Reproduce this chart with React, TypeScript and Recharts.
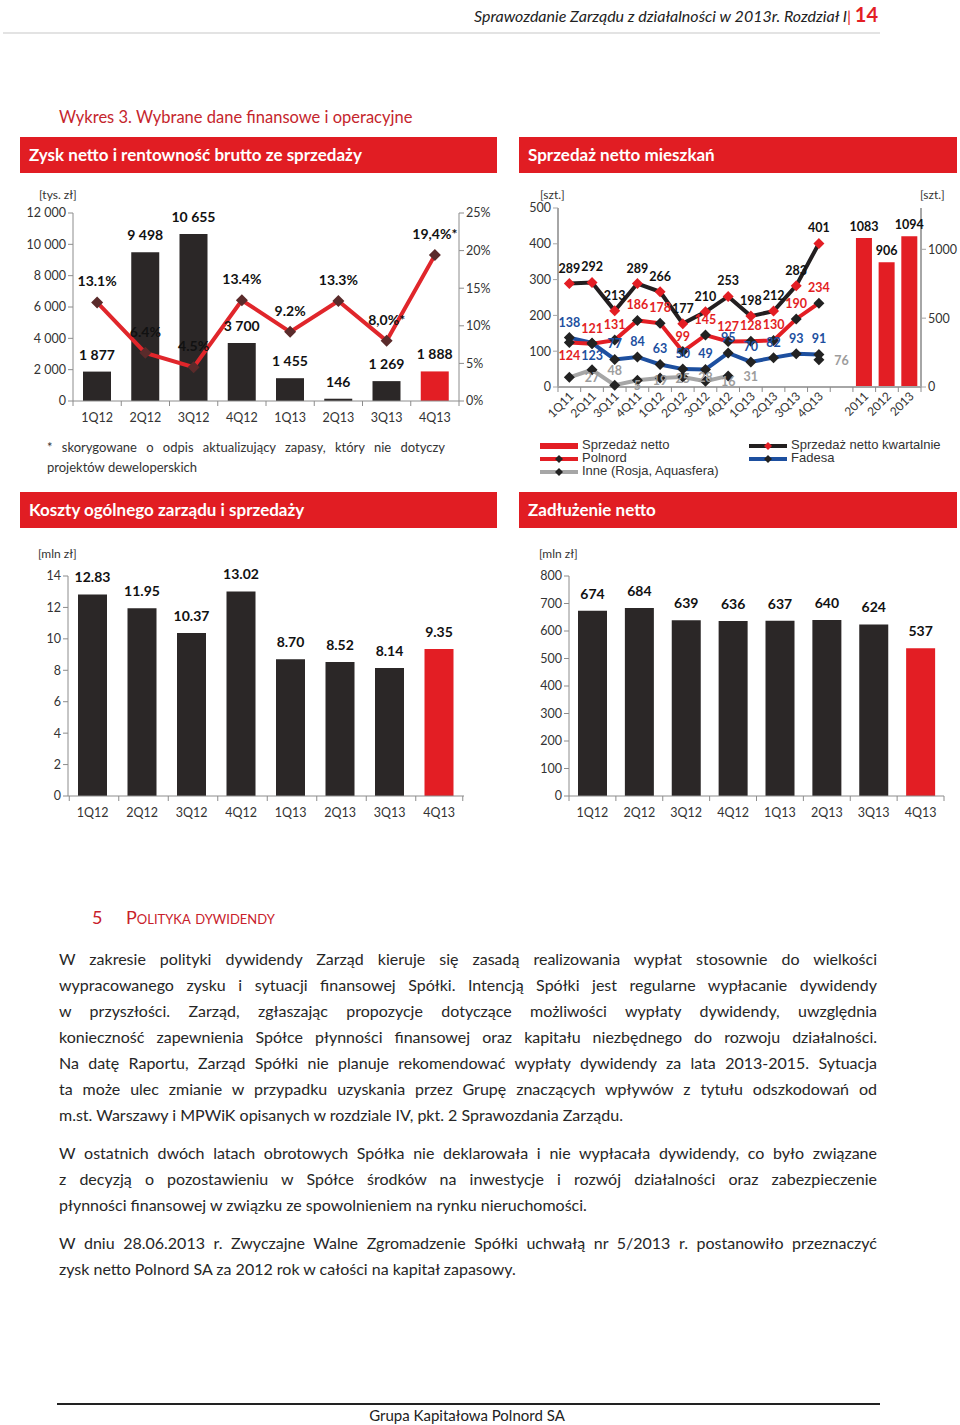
import React from 'react';
import { ComposedChart, BarChart, Bar, Line, XAxis, YAxis, Cell, LabelList } from 'recharts';

// --- data ---
const quarters = ['1Q12', '2Q12', '3Q12', '4Q12', '1Q13', '2Q13', '3Q13', '4Q13'];
const zyskNetto = [1877, 9498, 10655, 3700, 1455, 146, 1269, 1888];
const rentownosc = [13.1, 6.4, 4.5, 13.4, 9.2, 13.3, 8.0, 19.4];
const rentownoscLabels = ['13.1%', '6.4%', '4.5%', '13.4%', '9.2%', '13.3%', '8,0%*', '19,4%*'];

const salesQuarters = ['1Q11', '2Q11', '3Q11', '4Q11', '1Q12', '2Q12', '3Q12', '4Q12', '1Q13', '2Q13', '3Q13', '4Q13'];
const salesYears = ['2011', '2012', '2013'];
const sprzedazKwartalnie = [289, 292, 213, 289, 266, 177, 210, 253, 198, 212, 283, 401];
const polnord = [124, 121, 131, 186, 178, 99, 145, 127, 128, 130, 190, 234];
const fadesa = [138, 123, 77, 84, 63, 50, 49, 95, 70, 82, 93, 91];
const inne = [27, 48, 5, 19, 25, 28, 16, 31, null, null, null, 76];
const sprzedazRoczna = [1083, 906, 1094];

const koszty = [12.83, 11.95, 10.37, 13.02, 8.70, 8.52, 8.14, 9.35];
const zadluzenie = [674, 684, 639, 636, 637, 640, 624, 537];

const para1 = [
  'W zakresie polityki dywidendy Zarząd kieruje się zasadą realizowania wypłat stosownie do wielkości',
  'wypracowanego zysku i sytuacji finansowej Spółki. Intencją Spółki jest regularne wypłacanie dywidendy',
  'w przyszłości. Zarząd, zgłaszając propozycje dotyczące możliwości wypłaty dywidendy, uwzględnia',
  'konieczność zapewnienia Spółce płynności finansowej oraz kapitału niezbędnego do rozwoju działalności.',
  'Na datę Raportu, Zarząd Spółki nie planuje rekomendować wypłaty dywidendy za lata 2013-2015. Sytuacja',
  'ta może ulec zmianie w przypadku uzyskania przez Grupę znaczących wpływów z tytułu odszkodowań od',
  'm.st. Warszawy i MPWiK opisanych w rozdziale IV, pkt. 2 Sprawozdania Zarządu.',
];
const para2 = [
  'W ostatnich dwóch latach obrotowych Spółka nie deklarowała i nie wypłacała dywidendy, co było związane',
  'z decyzją o pozostawieniu w Spółce środków na inwestycje i rozwój działalności oraz zabezpieczenie',
  'płynności finansowej w związku ze spowolnieniem na rynku nieruchomości.',
];
const para3 = [
  'W dniu 28.06.2013 r. Zwyczajne Walne Zgromadzenie Spółki uchwałą nr 5/2013 r. postanowiło przeznaczyć',
  'zysk netto Polnord SA za 2012 rok w całości na kapitał zapasowy.',
];

// --- styles ---
const FONT = 'Lato, "Open Sans", sans-serif';
const ARIAL = '"Liberation Sans", Arial, sans-serif';
const DARK = '#2b2727';
const RED = '#e31e24';
const BLUE = '#1d4f9f';
const GREY = '#a6a6a6';
const AXIS = '#8c8c8c';
const TEXT = '#333333';
const HEAD_RED = '#e11d23';

const spaced = (n: any) => String(n).replace(/\B(?=(\d{3})+(?!\d))/g, ' ');
// non-breaking variant so Recharts' Text doesn't wrap bar labels
const spacedNb = (n: any) => String(n).replace(/\B(?=(\d{3})+(?!\d))/g, '\u00A0');

const diamond = (fill: string, r: number) => (p: any) => {
  const { cx, cy, index, value } = p;
  if (cx == null || cy == null || value == null) return <g key={`e${index}`} />;
  return (
    <polygon
      key={`d${index}`}
      points={`${cx},${cy - r} ${cx + r},${cy} ${cx},${cy + r} ${cx - r},${cy}`}
      fill={fill}
    />
  );
};

// category tick with Excel-like boundary marks
const BandTick = (props: any) => {
  const { x, y, payload, index, band, n, rotate, size } = props;
  const left = x - band / 2;
  return (
    <g>
      <line x1={left} x2={left} y1={y} y2={y + 5} stroke={AXIS} />
      {index === n - 1 && <line x1={x + band / 2} x2={x + band / 2} y1={y} y2={y + 5} stroke={AXIS} />}
      {rotate ? (
        <text
          x={x + 5}
          y={y + 10}
          textAnchor="end"
          transform={`rotate(-45 ${x + 5} ${y + 10})`}
          fill={TEXT}
          fontSize={size || 12.5}
          fontFamily={FONT}
        >
          {payload.value}
        </text>
      ) : (
        <text x={x} y={y + 21} textAnchor="middle" fill={TEXT} fontSize={size || 12.5} fontFamily={FONT}>
          {payload.value}
        </text>
      )}
    </g>
  );
};

const lineLabel = (color: string, below: number[] = [], shift = 0, inline = false) => (p: any) => {
  const { x, y, value, index } = p;
  if (value == null || x == null || y == null) return <g key={`l${index}`} />;
  const ty = inline ? y + 5 : below.includes(index) ? y + 17 : y - 11;
  return (
    <text key={`l${index}`} x={x + shift} y={ty} textAnchor="middle" fill={color} fontSize={12.5} fontWeight={700} fontFamily={FONT}>
      {value}
    </text>
  );
};

const Header = ({ left, top, width, title }: any) => (
  <div
    style={{
      position: 'absolute', left, top, width, height: 36, background: HEAD_RED, color: '#fff',
      fontFamily: FONT, fontWeight: 700, fontSize: 17, lineHeight: '36px', paddingLeft: 9, boxSizing: 'border-box',
    }}
  >
    {title}
  </div>
);

const Unit = ({ left, top, children }: any) => (
  <div style={{ position: 'absolute', left, top, fontFamily: FONT, fontSize: 12, color: TEXT, whiteSpace: 'nowrap' }}>{children}</div>
);

const Paragraph = ({ lines, top }: any) => (
  <>
    {lines.map((l: string, i: number) => (
      <div
        key={i}
        style={{
          position: 'absolute', left: 59, top: top + i * 26, width: 818, height: 26, lineHeight: '26px',
          fontFamily: FONT, fontSize: 16, color: '#262626', whiteSpace: 'nowrap',
          textAlign: i === lines.length - 1 ? 'left' : 'justify',
          textAlignLast: i === lines.length - 1 ? 'left' : 'justify',
        } as any}
      >
        {l}
      </div>
    ))}
  </>
);

const LegendSwatch = ({ color, marker, bar }: any) => (
  <svg width={40} height={10} style={{ verticalAlign: 'middle', marginRight: 3 }}>
    {bar ? (
      <rect x={1} y={2} width={38} height={6} fill={color} />
    ) : (
      <>
        <line x1={1} x2={39} y1={5} y2={5} stroke={color} strokeWidth={4} />
        <polygon points="20,1 24,5 20,9 16,5" fill={marker} />
      </>
    )}
  </svg>
);

const legendItems = [
  { label: 'Sprzedaż netto', color: RED, bar: true, col: 0, row: 0 },
  { label: 'Polnord', color: RED, marker: '#222', col: 0, row: 1 },
  { label: 'Inne (Rosja, Aquasfera)', color: GREY, marker: '#222', col: 0, row: 2 },
  { label: 'Sprzedaż netto kwartalnie', color: '#231f20', marker: RED, col: 1, row: 0 },
  { label: 'Fadesa', color: BLUE, marker: '#222', col: 1, row: 1 },
];

export default function App() {
  const zyskData = quarters.map((q, i) => ({ q, zysk: zyskNetto[i], rent: rentownosc[i], label: rentownoscLabels[i] }));

  const salesData = [
    ...salesQuarters.map((c, i) => ({
      c, total: sprzedazKwartalnie[i], polnord: polnord[i], fadesa: fadesa[i], inne: inne[i], year: null as any,
    })),
    { c: '', total: null, polnord: null, fadesa: null, inne: null, year: null },
    ...salesYears.map((c, i) => ({ c, total: null, polnord: null, fadesa: null, inne: null, year: sprzedazRoczna[i] })),
  ];

  const kosztyData = quarters.map((q, i) => ({ q, v: koszty[i] }));
  const dlugData = quarters.map((q, i) => ({ q, v: zadluzenie[i] }));

  const yTick = { fill: TEXT, fontSize: 12.5, fontFamily: FONT };
  const barLabelStyle = { fill: '#111', fontSize: 14, fontWeight: 700, fontFamily: FONT };

  return (
    <div style={{ position: 'absolute', left: 0, top: 0, width: 960, height: 1425, background: '#fff', overflow: 'hidden' }}>
      {/* page header */}
      <div style={{ position: 'absolute', right: 82, top: 2, fontFamily: FONT, whiteSpace: 'nowrap', color: '#222' }}>
        <span style={{ fontStyle: 'italic', fontSize: 16 }}>Sprawozdanie Zarządu z działalności w 2013r. Rozdział I</span>
        <span style={{ color: RED, fontSize: 16, fontStyle: 'italic' }}>| </span>
        <span style={{ color: RED, fontSize: 20, fontWeight: 700 }}>14</span>
      </div>
      <div style={{ position: 'absolute', left: 3, top: 32, width: 877, height: 2, background: '#e3e3e3' }} />

      <div style={{ position: 'absolute', left: 59, top: 107, fontFamily: FONT, fontSize: 16.5, color: '#c5252c' }}>
        Wykres 3. Wybrane dane finansowe i operacyjne
      </div>

      <Header left={20} top={137} width={477} title="Zysk netto i rentowność brutto ze sprzedaży" />
      <Header left={519} top={137} width={438} title="Sprzedaż netto mieszkań" />
      <Header left={20} top={492} width={477} title="Koszty ogólnego zarządu i sprzedaży" />
      <Header left={519} top={492} width={438} title="Zadłużenie netto" />

      {/* chart 1 */}
      <Unit left={39} top={187}>[tys. zł]</Unit>
      <div style={{ position: 'absolute', left: 20, top: 180 }}>
        <ComposedChart width={480} height={246} data={zyskData} margin={{ top: 33, right: 0, bottom: 0, left: 0 }}>
          <XAxis dataKey="q" interval={0} height={25} axisLine={{ stroke: AXIS }} tickLine={false} tickSize={0} tickMargin={0}
            tick={<BandTick band={48.25} n={8} />} />
          <YAxis yAxisId="l" domain={[0, 12000]} ticks={[0, 2000, 4000, 6000, 8000, 10000, 12000]} width={53}
            tickFormatter={spaced} axisLine={{ stroke: AXIS }} tickLine={{ stroke: AXIS }} tickSize={5} tick={yTick} />
          <YAxis yAxisId="r" orientation="right" domain={[0, 25]} ticks={[0, 5, 10, 15, 20, 25]} width={41}
            tickFormatter={(v: any) => `${v}%`} axisLine={{ stroke: AXIS }} tickLine={{ stroke: AXIS }} tickSize={5} tick={yTick} />
          <Bar yAxisId="l" dataKey="zysk" barSize={28} isAnimationActive={false}>
            {zyskData.map((d, i) => <Cell key={i} fill={i === zyskData.length - 1 ? RED : DARK} />)}
            <LabelList dataKey="zysk" position="top" offset={12} formatter={spacedNb} {...barLabelStyle} />
          </Bar>
          <Line yAxisId="r" dataKey="rent" stroke="#e0262b" strokeWidth={4} dot={diamond('#5a2b2b', 6)} activeDot={false} isAnimationActive={false}>
            <LabelList dataKey="label" position="top" offset={16} {...barLabelStyle} />
          </Line>
        </ComposedChart>
      </div>
      <div style={{ position: 'absolute', left: 47, top: 437, width: 398, fontFamily: FONT, fontSize: 13, lineHeight: '20px', color: TEXT }}>
        <div style={{ textAlign: 'justify', textAlignLast: 'justify', whiteSpace: 'nowrap' } as any}>* skorygowane o odpis aktualizujący zapasy, który nie dotyczy</div>
        <div>projektów deweloperskich</div>
      </div>

      {/* chart 2 */}
      <Unit left={540} top={187}>[szt.]</Unit>
      <Unit left={920} top={187}>[szt.]</Unit>
      <div style={{ position: 'absolute', left: 520, top: 180 }}>
        <ComposedChart width={440} height={252} data={salesData} margin={{ top: 28, right: 0, bottom: 0, left: 0 }}>
          <XAxis dataKey="c" interval={0} height={45} axisLine={{ stroke: GREY, strokeWidth: 2 }} tickLine={false} tickSize={0} tickMargin={0}
            tick={<BandTick band={22.69} n={16} rotate size={12} />} />
          <YAxis yAxisId="l" domain={[0, 500]} ticks={[0, 100, 200, 300, 400, 500]} width={38}
            axisLine={{ stroke: GREY, strokeWidth: 2 }} tickLine={{ stroke: GREY }} tickSize={5} tick={yTick} />
          <YAxis yAxisId="r" orientation="right" domain={[0, 1300]} ticks={[0, 500, 1000]} width={39}
            axisLine={{ stroke: GREY, strokeWidth: 2 }} tickLine={{ stroke: GREY }} tickSize={5} tick={yTick} />
          <Bar yAxisId="r" dataKey="year" fill={RED} barSize={16} isAnimationActive={false}>
            <LabelList dataKey="year" position="top" offset={7} fill="#111" fontSize={12.5} fontWeight={700} fontFamily={FONT} />
          </Bar>
          <Line yAxisId="l" dataKey="inne" stroke={GREY} strokeWidth={4} dot={diamond('#222', 5.5)} activeDot={false} isAnimationActive={false}>
            <LabelList dataKey="inne" content={lineLabel('#9c9c9c', [], 22.69, true)} />
          </Line>
          <Line yAxisId="l" dataKey="fadesa" stroke={BLUE} strokeWidth={4} dot={diamond('#222', 5.5)} activeDot={false} isAnimationActive={false}>
            <LabelList dataKey="fadesa" content={lineLabel(BLUE, [1])} />
          </Line>
          <Line yAxisId="l" dataKey="polnord" stroke={RED} strokeWidth={4} dot={diamond('#222', 5.5)} activeDot={false} isAnimationActive={false}>
            <LabelList dataKey="polnord" content={lineLabel(RED, [0])} />
          </Line>
          <Line yAxisId="l" dataKey="total" stroke="#231f20" strokeWidth={4} dot={diamond(RED, 5.5)} activeDot={false} isAnimationActive={false}>
            <LabelList dataKey="total" content={lineLabel('#111')} />
          </Line>
        </ComposedChart>
      </div>
      {legendItems.map((it, i) => (
        <div key={i} style={{ position: 'absolute', left: it.col ? 748 : 539, top: 438 + it.row * 13, fontFamily: ARIAL, fontSize: 13, lineHeight: '13px', color: TEXT, whiteSpace: 'nowrap' }}>
          <LegendSwatch color={it.color} marker={it.marker} bar={it.bar} />
          {it.label}
        </div>
      ))}

      {/* chart 3 */}
      <Unit left={38} top={546}>[mln zł]</Unit>
      <div style={{ position: 'absolute', left: 20, top: 540 }}>
        <BarChart width={480} height={290} data={kosztyData} margin={{ top: 36, right: 36, bottom: 0, left: 0 }}>
          <XAxis dataKey="q" interval={0} height={34} axisLine={{ stroke: AXIS }} tickLine={false} tickSize={0} tickMargin={0}
            tick={<BandTick band={47} n={8} />} />
          <YAxis domain={[0, 14]} ticks={[0, 2, 4, 6, 8, 10, 12, 14]} width={48}
            axisLine={{ stroke: AXIS }} tickLine={{ stroke: AXIS }} tickSize={5} tick={yTick} />
          <Bar dataKey="v" barSize={29} isAnimationActive={false}>
            {kosztyData.map((d, i) => <Cell key={i} fill={i === kosztyData.length - 1 ? RED : DARK} />)}
            <LabelList dataKey="v" position="top" offset={12} formatter={(v: any) => Number(v).toFixed(2)} {...barLabelStyle} />
          </Bar>
        </BarChart>
      </div>

      {/* chart 4 */}
      <Unit left={539} top={546}>[mln zł]</Unit>
      <div style={{ position: 'absolute', left: 520, top: 540 }}>
        <BarChart width={440} height={290} data={dlugData} margin={{ top: 36, right: 16, bottom: 0, left: 0 }}>
          <XAxis dataKey="q" interval={0} height={34} axisLine={{ stroke: AXIS }} tickLine={false} tickSize={0} tickMargin={0}
            tick={<BandTick band={46.875} n={8} />} />
          <YAxis domain={[0, 800]} ticks={[0, 100, 200, 300, 400, 500, 600, 700, 800]} width={49}
            axisLine={{ stroke: AXIS }} tickLine={{ stroke: AXIS }} tickSize={5} tick={yTick} />
          <Bar dataKey="v" barSize={29} isAnimationActive={false}>
            {dlugData.map((d, i) => <Cell key={i} fill={i === dlugData.length - 1 ? RED : DARK} />)}
            <LabelList dataKey="v" position="top" offset={12} {...barLabelStyle} />
          </Bar>
        </BarChart>
      </div>

      {/* section text */}
      <div style={{ position: 'absolute', left: 92, top: 906, fontFamily: FONT, fontSize: 18, color: '#c8202a', whiteSpace: 'nowrap' }}>
        <span style={{ display: 'inline-block', width: 34 }}>5</span>
        <span style={{ fontVariant: 'small-caps' }}>Polityka dywidendy</span>
      </div>
      <Paragraph lines={para1} top={946} />
      <Paragraph lines={para2} top={1140} />
      <Paragraph lines={para3} top={1230} />

      <div style={{ position: 'absolute', left: 57, top: 1403, width: 823, height: 2, background: '#222' }} />
      <div style={{ position: 'absolute', left: 0, width: 934, top: 1406, textAlign: 'center', fontFamily: FONT, fontSize: 15, color: '#222' }}>
        Grupa Kapitałowa Polnord SA
      </div>
    </div>
  );
}
